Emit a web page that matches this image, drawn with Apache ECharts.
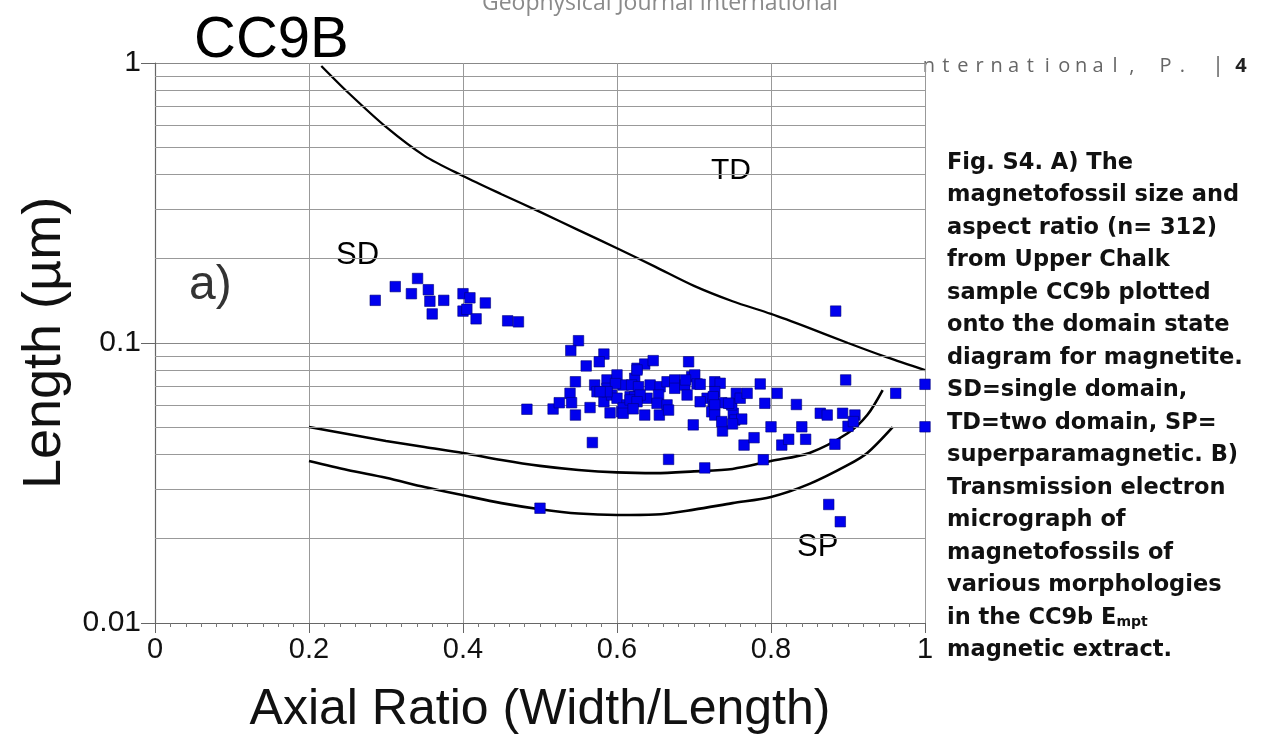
<!DOCTYPE html>
<html>
<head>
<meta charset="utf-8">
<script src="https://cdn.jsdelivr.net/npm/echarts@6/dist/echarts.min.js"></script>
<style>
html,body{margin:0;padding:0;background:#fff;}
#chart{width:1270px;height:740px;}
</style>
</head>
<body>
<div id="chart"></div>
<script>
// ---- data ----
const xTickLabels = ['0', '0.2', '0.4', '0.6', '0.8', '1'];
const yTickLabels = ['0.01', '0.1', '1'];
const minorGridY = [0.02,0.03,0.04,0.05,0.06,0.07,0.08,0.09,0.2,0.3,0.4,0.5,0.6,0.7,0.8,0.9];

// TD boundary
const tdX = [0.216,0.25,0.3,0.35,0.4,0.45,0.5,0.55,0.6,0.65,0.7,0.75,0.8,0.85,0.9,0.95,1.0];
const tdY = [0.976,0.788,0.591,0.466,0.395,0.340,0.294,0.253,0.218,0.187,0.160,0.141,0.127,0.113,0.100,0.089,0.080];
// SD / SP boundary (upper)
const sdX = [0.2,0.25,0.3,0.35,0.4,0.45,0.5,0.55,0.6,0.65,0.7,0.75,0.8,0.85,0.9,0.925,0.945];
const sdY = [0.0501,0.0473,0.0447,0.0425,0.0405,0.0382,0.0364,0.0352,0.0345,0.0343,0.0348,0.0355,0.0379,0.0405,0.0477,0.0553,0.0679];
// SD / SP boundary (lower)
const spX = [0.2,0.25,0.3,0.35,0.4,0.45,0.5,0.55,0.6,0.65,0.7,0.75,0.8,0.85,0.9,0.925,0.958];
const spY = [0.0379,0.0352,0.0330,0.0306,0.0286,0.0268,0.0255,0.0246,0.0243,0.0244,0.0254,0.0268,0.0282,0.0314,0.0367,0.0405,0.0501];

// magnetofossils: axial ratio
const ratio = [
0.286,0.312,0.341,0.333,0.355,0.357,0.360,0.375,0.400,0.409,0.400,0.405,0.417,0.429,0.458,0.472,
0.483,0.500,0.517,0.525,0.539,0.541,0.546,0.546,0.550,0.540,0.560,0.565,0.568,0.571,0.574,0.583,
0.577,0.587,0.587,0.583,0.593,0.591,0.600,0.600,0.606,0.608,0.617,0.613,0.608,0.626,0.636,0.647,
0.623,0.619,0.628,0.623,0.639,0.636,0.643,0.656,0.654,0.652,0.665,0.655,0.667,0.667,0.665,0.675,
0.675,0.688,0.693,0.691,0.697,0.701,0.704,0.699,0.714,0.727,0.734,0.727,0.717,0.708,0.725,0.736,
0.723,0.747,0.751,0.755,0.753,0.737,0.708,0.786,0.725,0.727,0.749,0.727,0.760,0.769,0.762,0.750,
0.792,0.808,0.800,0.833,0.840,0.765,0.778,0.814,0.823,0.845,0.790,0.864,0.873,0.893,0.909,0.900,
0.907,0.883,0.875,0.890,0.884,0.897,0.962,1.0,1.0,0.598,0.587,0.578,0.608,0.617,0.626,0.630,
0.626,0.621,0.689,0.745,0.736
];
// magnetofossils: length (µm)
const lengthUm = [
0.142,0.159,0.170,0.150,0.155,0.141,0.127,0.142,0.150,0.145,0.130,0.132,0.122,0.139,0.120,0.119,
0.058,0.0257,0.0581,0.0612,0.0661,0.0612,0.0727,0.0553,0.1019,0.094,0.0828,0.0588,0.0441,0.0708,0.067,0.0913,
0.0857,0.0738,0.0689,0.0617,0.0652,0.0563,0.0769,0.0635,0.0568,0.0708,0.0643,0.0601,0.0586,0.0812,0.0841,0.0865,
0.0748,0.0708,0.0698,0.0643,0.0635,0.0553,0.0708,0.0698,0.0652,0.0609,0.0601,0.0553,0.0576,0.0384,0.0727,0.0738,
0.0689,0.0708,0.0857,0.0652,0.0758,0.0769,0.0714,0.051,0.0358,0.0727,0.0718,0.067,0.0635,0.0617,0.0609,0.0612,
0.0568,0.0609,0.0561,0.0661,0.0531,0.0485,0.0712,0.0714,0.0643,0.0601,0.0601,0.0553,0.0635,0.0661,0.0535,0.0514,
0.0609,0.0661,0.0502,0.0603,0.0502,0.0432,0.0459,0.0432,0.0453,0.0453,0.0383,0.0561,0.0553,0.0561,0.0553,0.0504,
0.0524,0.0435,0.0265,0.0230,0.130,0.0738,0.0661,0.0712,0.0502,0.0716,0.067,0.067,0.0561,0.0626,0.0801,0.0652,
0.0617,0.0582,0.0738,0.0609,0.0524
];

const captionLines = [
  'Fig. S4. A) The',
  'magnetofossil size and',
  'aspect ratio (n= 312)',
  'from Upper Chalk',
  'sample CC9b plotted',
  'onto the domain state',
  'diagram for magnetite.',
  'SD=single domain,',
  'TD=two domain, SP=',
  'superparamagnetic. B)',
  'Transmission electron',
  'micrograph of',
  'magnetofossils of',
  'various morphologies',
  'in the CC9b E{sub|mpt}',
  'magnetic extract.'
];
const headerRight = 'nternational, P.';

// ---- build ----
const pts = ratio.map((r, i) => [r, lengthUm[i]]);
const zip = (xs, ys) => xs.map((x, i) => [x, ys[i]]);
const FONT = '"Liberation Sans", Arial, sans-serif';
const CAPFONT = '"DejaVu Sans", "Open Sans", sans-serif';
const HDRFONT = '"Open Sans", "Noto Sans", sans-serif';

const graphics = [];
graphics.push({type:'text', left:194, top:12, silent:true,
  style:{text:'CC9B', fontSize:58, fontFamily:FONT, fill:'#000'}});
graphics.push({type:'text', left:189, top:262, silent:true,
  style:{text:'a)', fontSize:48, fontFamily:FONT, fill:'#333'}});
graphics.push({type:'text', left:336, top:240, silent:true,
  style:{text:'SD', fontSize:31, fontFamily:FONT, fill:'#000'}});
graphics.push({type:'text', left:711, top:156, silent:true,
  style:{text:'TD', fontSize:30, fontFamily:FONT, fill:'#000'}});
graphics.push({type:'text', left:797, top:532, silent:true,
  style:{text:'SP', fontSize:31, fontFamily:FONT, fill:'#000'}});
// page header (cut off)
graphics.push({type:'text', x:660, y:3, silent:true,
  style:{text:'Geophysical Journal International', fontSize:23, fontFamily:HDRFONT,
    fill:'#8a8a8a', textAlign:'center', textVerticalAlign:'middle'}});
headerRight.split('').forEach((ch, i) => {
  graphics.push({type:'text', x:929 + i*16.9, y:66, silent:true,
    style:{text:ch, fontSize:20, fontFamily:HDRFONT, fill:'#666', textAlign:'center', textVerticalAlign:'middle'}});
});
graphics.push({type:'text', x:1218, y:66, silent:true,
  style:{text:'|', fontSize:22, fontFamily:HDRFONT, fill:'#666', textAlign:'center', textVerticalAlign:'middle'}});
graphics.push({type:'text', x:1241, y:66, silent:true,
  style:{text:'4', fontSize:20, fontWeight:'bold', fontFamily:HDRFONT, fill:'#222', textAlign:'center', textVerticalAlign:'middle'}});
// caption
captionLines.forEach((line, i) => {
  graphics.push({type:'text', x:947, y:163 + i*32.5, silent:true,
    style:{text:line, fontSize:22.5, fontWeight:'bold', fontFamily:CAPFONT, fill:'#111',
      textVerticalAlign:'middle',
      rich:{sub:{fontSize:14, fontWeight:'bold', fontFamily:CAPFONT, fill:'#111', padding:[8,0,0,0]}}}});
});

const chart = echarts.init(document.getElementById('chart'), null, {renderer:'canvas'});
chart.setOption({
  animation:false,
  backgroundColor:'#fff',
  grid:{left:155, right:345, top:63, bottom:117, containLabel:false},
  graphic:graphics,
  xAxis:{
    type:'value', min:0, max:1, interval:0.2,
    name:'Axial Ratio (Width/Length)', nameLocation:'middle', nameGap:62,
    nameTextStyle:{fontSize:50, fontFamily:FONT, color:'#111'},
    axisLine:{show:true, lineStyle:{color:'#666', width:1.2}},
    axisTick:{show:true, length:10, lineStyle:{color:'#666'}},
    minorTick:{show:true, splitNumber:10, length:4, lineStyle:{color:'#777'}},
    axisLabel:{fontSize:29, fontFamily:FONT, color:'#111', margin:12,
      formatter:(v) => xTickLabels[Math.round(v/0.2)]},
    splitLine:{show:true, lineStyle:{color:'#999', width:1}}
  },
  yAxis:{
    type:'log', logBase:10, min:0.01, max:1,
    name:'Length (µm)', nameLocation:'middle', nameGap:80, nameRotate:90,
    nameTextStyle:{fontSize:54, fontFamily:FONT, color:'#111'},
    axisLine:{show:true, lineStyle:{color:'#666', width:1.2}},
    axisTick:{show:true, length:14, lineStyle:{color:'#666'}},
    axisLabel:{fontSize:30, fontFamily:FONT, color:'#111', margin:14,
      formatter:(v) => yTickLabels[Math.round(Math.log10(v)) + 2]},
    splitLine:{show:true, lineStyle:{color:'#888', width:1}}
  },
  series:[
    {type:'line', data:[], silent:true,
      markLine:{silent:true, symbol:['none','none'], label:{show:false},
        lineStyle:{color:'#999', width:1, type:'solid'},
        data:minorGridY.map(v => ({yAxis:v}))}},
    {type:'line', data:zip(tdX, tdY), smooth:0.3, showSymbol:false, silent:true,
      lineStyle:{color:'#000', width:2.3}},
    {type:'line', data:zip(sdX, sdY), smooth:0.3, showSymbol:false, silent:true,
      lineStyle:{color:'#000', width:2.6}},
    {type:'line', data:zip(spX, spY), smooth:0.3, showSymbol:false, silent:true,
      lineStyle:{color:'#000', width:2.6}},
    {type:'scatter', data:pts, symbol:'rect', symbolSize:10.5,
      itemStyle:{color:'#0000ee', borderColor:'#00007a', borderWidth:0.6, opacity:1}, z:5}
  ]
});
</script>
</body>
</html>
